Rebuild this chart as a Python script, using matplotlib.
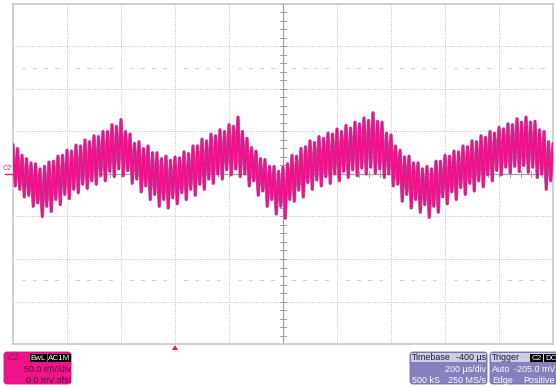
import numpy as np
import matplotlib
matplotlib.use("Agg")
from matplotlib import pyplot as plt
from matplotlib.patches import FancyBboxPatch, Rectangle, Polygon

plt.rcParams['font.family'] = ['Liberation Sans', 'DejaVu Sans']

# scope settings
mv_per_div = 50.0      # C2 vertical scale
us_per_div = 200.0     # timebase
t_left = -600.0        # time at left edge of screen (us)
n_xdiv, n_ydiv = 10, 8

# C2 ripple: peak and trough of every ripple cycle, mV
c2_high = [34, 30, 22, 18, 13, 12, 6, 9, 14, 15, 21, 22, 28, 27, 34, 33, 40, 38, 45, 44,
           50, 50, 58, 56, 64, 50, 47, 36, 38, 30, 33, 25, 25, 18, 21, 16, 20, 19, 26, 24,
           33, 33, 41, 39, 47, 45, 52, 50, 58, 56, 67, 50, 42, 31, 27, 18, 17, 9, 9, 3,
           8, 12, 22, 21, 30, 32, 39, 37, 44, 42, 48, 47, 53, 50, 57, 54, 61, 59, 66, 63,
           72, 62, 61, 48, 46, 33, 28, 20, 21, 13, 13, 6, 9, 6, 15, 15, 22, 21, 27, 26,
           33, 32, 39, 38, 45, 43, 50, 48, 55, 53, 59, 58, 65, 61, 67, 61, 62, 52, 50, 38,
           36]
c2_low = [-14, -18, -27, -25, -38, -34, -50, -38, -44, -30, -36, -24, -29, -18, -22, -12, -17, -8, -12, -2,
          -8, 3, -3, 6, -2, 4, -11, -6, -21, -14, -30, -24, -38, -30, -40, -28, -35, -22, -30, -18,
          -25, -12, -18, -6, -11, 0, -6, 5, -1, 6, -3, 0, -14, -8, -25, -20, -38, -30, -47, -38,
          -52, -30, -32, -19, -27, -10, -18, -7, -14, -3, -11, 0, -8, 3, -4, 5, -2, 7, 0, 8,
          1, 6, -4, 0, -14, -12, -32, -24, -40, -30, -45, -36, -51, -38, -45, -27, -35, -21, -30, -16,
          -24, -11, -20, -8, -15, -1, -8, 4, -1, 8, 1, 9, 3, 10, 2, 8, -4, 0, -18, -8,
          -12]

W, H = 556, 387
px_left, px_right, px_top, px_bottom = 13, 553, 4, 344
px_per_xdiv = (px_right - px_left) / n_xdiv

fig = plt.figure(figsize=(W / 100, H / 100), dpi=100)
fig.patch.set_facecolor('white')
ax = fig.add_axes([px_left / W, 1 - px_bottom / H,
                   (px_right - px_left) / W, (px_bottom - px_top) / H])
t_right = t_left + n_xdiv * us_per_div
v_top = n_ydiv / 2 * mv_per_div
ax.set_xlim(t_left, t_right)
ax.set_ylim(-v_top, v_top)
ax.set_xticks([])
ax.set_yticks([])
for s in ax.spines.values():
    s.set_color('#C8C8C8')
    s.set_linewidth(1.2)

t_mid = t_left + n_xdiv / 2 * us_per_div
grid_c = '#B4B4B4'
dots = (0, (0.8, 1.6))
for k in range(1, n_xdiv):
    x = t_left + k * us_per_div
    if k == n_xdiv // 2:
        ax.axvline(x, color='#A0A0A0', lw=0.9, zorder=1)
    else:
        ax.axvline(x, color=grid_c, lw=0.7, ls=dots, zorder=1)
for k in range(1, n_ydiv):
    y = -v_top + k * mv_per_div
    if k == n_ydiv // 2:
        ax.axhline(y, color='#A0A0A0', lw=0.9, zorder=1)
    else:
        ax.axhline(y, color=grid_c, lw=0.7, ls=dots, zorder=1)

# minor ticks on the centre cross
for x in np.arange(t_left, t_right + 1, us_per_div / 5):
    ax.plot([x, x], [-3.5, 3.5], color='#A0A0A0', lw=0.7, zorder=1)
for y in np.arange(-v_top, v_top + 1, mv_per_div / 5):
    ax.plot([t_mid - 12, t_mid + 12], [y, y], color='#A0A0A0', lw=0.7, zorder=1)

# faint dash rows at 1.5 div from top and bottom
for y in (v_top - 1.5 * mv_per_div, -v_top + 1.5 * mv_per_div):
    for x in np.arange(t_left, t_right, us_per_div / 5):
        if abs((x - t_left) % us_per_div) < 1e-6:
            continue
        ax.plot([x - 5, x + 5], [y, y], color='#D4D4D4', lw=0.8, zorder=1)

# the trace
vals = np.empty(2 * len(c2_high))
vals[0::2] = c2_high
vals[1::2] = c2_low
t = t_left + np.arange(len(vals)) * (n_xdiv * us_per_div / (2 * (len(c2_high) - 1)))
ax.plot(t, vals, color='#B262A6', lw=2.4, zorder=3)
ax.plot(t, vals, color='#EE1187', lw=1.6, zorder=4)

# overlay in pixel coordinates for the labels
ov = fig.add_axes([0, 0, 1, 1])
ov.set_xlim(0, W)
ov.set_ylim(H, 0)
ov.axis('off')

pink = '#EE1187'
zero_y = (px_top + px_bottom) / 2
ov.plot([5, px_left], [zero_y, zero_y], color=pink, lw=1.0)
ov.text(3, zero_y - 1.5, 'C2', fontsize=5.2, color='#C8307E', va='bottom', ha='left')

trig_x = px_left + (0 - t_left) / us_per_div * px_per_xdiv
ov.add_patch(Polygon([(trig_x - 3, 350), (trig_x + 3, 350), (trig_x, 345)], closed=True,
                     color=pink, lw=0))

fs = 6.4
# C2 channel box
ov.add_patch(FancyBboxPatch((4, 352), 67, 32, boxstyle='round,pad=0,rounding_size=3',
                            fc='#F0148C', ec='#D0107A', lw=0.6))
ov.text(7, 358, 'C2', fontsize=fs, color='#A00A55', va='center', ha='left')
ov.add_patch(Rectangle((30, 354), 17, 8, fc='black', lw=0))
ov.add_patch(Rectangle((48, 354), 23, 8, fc='black', lw=0))
ov.text(38.5, 358, 'BwL', fontsize=fs - 0.6, color='white', va='center', ha='center')
ov.text(59.5, 358, 'AC1M', fontsize=fs - 0.6, color='white', va='center', ha='center')
ov.text(71, 370, '50.0 mV/div', fontsize=fs, color='#4A1232', va='center', ha='right')
ov.text(71, 380.5, '0.0 mV ofst', fontsize=fs, color='#4A1232', va='center', ha='right')

# timebase box
body = '#8680BE'
head = '#CFCDE6'
ov.add_patch(FancyBboxPatch((410, 352), 77, 32, boxstyle='round,pad=0,rounding_size=3',
                            fc=body, ec='#6E68A8', lw=0.6))
ov.add_patch(Rectangle((411, 353), 75, 9, fc=head, lw=0))
ov.text(412, 357.5, 'Timebase', fontsize=fs, color='#1E1E3C', va='center', ha='left')
ov.text(486, 357.5, '-400 µs', fontsize=fs, color='#1E1E3C', va='center', ha='right')
ov.text(486, 370, '200 µs/div', fontsize=fs, color='white', va='center', ha='right')
ov.text(412, 380.5, '500 kS', fontsize=fs, color='white', va='center', ha='left')
ov.text(486, 380.5, '250 MS/s', fontsize=fs, color='white', va='center', ha='right')

# trigger box
ov.add_patch(FancyBboxPatch((490, 352), 80, 32, boxstyle='round,pad=0,rounding_size=3',
                            fc=body, ec='#6E68A8', lw=0.6))
ov.add_patch(Rectangle((491, 353), 78, 9, fc=head, lw=0))
ov.text(492, 357.5, 'Trigger', fontsize=fs, color='#1E1E3C', va='center', ha='left')
ov.add_patch(Rectangle((530, 354), 13, 8, fc='black', lw=0))
ov.add_patch(Rectangle((544, 354), 14, 8, fc='black', lw=0))
ov.text(536.5, 358, 'C2', fontsize=fs - 0.6, color='white', va='center', ha='center')
ov.text(551, 358, 'DC', fontsize=fs - 0.6, color='white', va='center', ha='center')
ov.text(492, 370, 'Auto', fontsize=fs, color='white', va='center', ha='left')
ov.text(555, 370, '-205.0 mV', fontsize=fs, color='white', va='center', ha='right')
ov.text(492, 380.5, 'Edge', fontsize=fs, color='white', va='center', ha='left')
ov.text(555, 380.5, 'Positive', fontsize=fs, color='white', va='center', ha='right')

fig.savefig('out.png', dpi=100)
